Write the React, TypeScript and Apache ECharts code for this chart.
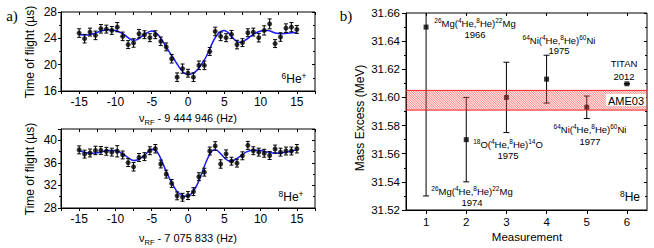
import { useEffect, useRef } from 'react';
import * as echarts from 'echarts';

// ---------- data ----------
const freqOffsetsHz = [-15, -14.25, -13.5, -12.75, -12, -11.25, -10.5, -9.75, -9, -8.25, -7.5, -6.75, -6, -5.25, -4.5, -3.75, -3, -2.25, -1.5, -0.75, 0, 0.75, 1.5, 2.25, 3, 3.75, 4.5, 5.25, 6, 6.75, 7.5, 8.25, 9, 9.75, 10.5, 11.25, 12, 12.75, 13.5, 14.25, 15];
const tof6He = [24.8, 23.95, 24.95, 24.45, 25.45, 25.4, 25.2, 25.7, 24.3, 23.05, 23.3, 24.7, 24.55, 24.1, 24.55, 23.55, 22.7, 20.9, 18.1, 19.4, 18.7, 18.1, 19.9, 19.9, 22.0, 25.05, 24.3, 24.1, 24.6, 23.05, 23.35, 24.85, 24.95, 24.1, 25.2, 26.2, 23.2, 24.2, 25.55, 25.7, 25.35];
const tof6HeErr = [0.65, 0.65, 0.6, 0.65, 0.65, 0.6, 0.6, 0.7, 0.65, 0.6, 0.65, 0.65, 0.6, 0.6, 0.6, 0.65, 0.6, 0.65, 0.65, 0.7, 0.6, 0.65, 0.65, 0.65, 0.6, 0.65, 0.65, 0.6, 0.6, 0.65, 0.6, 0.6, 0.6, 0.65, 0.7, 0.75, 0.6, 0.65, 0.65, 0.7, 0.6];
const tof8He = [38.3, 37.55, 37.75, 38.2, 38.2, 38.05, 37.9, 38.05, 37.4, 36.05, 35.3, 36.95, 37.1, 38.15, 38.5, 35.8, 34.0, 32.35, 30.15, 29.9, 30.2, 30.9, 33.55, 34.35, 38.1, 39.0, 35.8, 37.6, 36.3, 35.95, 37.25, 39.1, 38.15, 37.9, 37.7, 37.3, 38.45, 37.9, 38.1, 38.1, 38.5];
const tof8HeErr = [0.7, 0.7, 0.7, 0.75, 0.7, 0.7, 0.7, 1.0, 0.7, 0.7, 0.75, 0.7, 0.7, 0.7, 0.75, 0.7, 0.7, 0.7, 0.7, 0.7, 0.7, 0.7, 0.7, 0.7, 0.7, 0.75, 0.75, 0.7, 0.7, 0.7, 0.7, 0.7, 0.7, 0.7, 0.7, 0.7, 0.7, 0.7, 0.7, 0.7, 0.75];
const fitX = [-15, -14, -13, -12, -11, -10, -9, -8, -7.5, -7, -6, -5, -4.5, -4, -3.5, -3, -2.5, -2, -1.5, -1, -0.5, 0, 0.5, 1, 1.5, 2, 2.5, 3, 3.5, 4, 4.5, 5, 5.5, 6, 6.5, 7, 7.5, 8, 9, 10, 11, 12, 13, 14, 15];
const fit6He = [24.6, 24.5, 24.7, 25.1, 25.3, 25.2, 24.7, 23.9, 23.7, 23.8, 24.6, 25.1, 24.9, 24.4, 23.6, 22.7, 21.8, 21.0, 20.1, 19.3, 18.7, 18.5, 18.6, 18.9, 19.5, 20.3, 21.2, 22.4, 23.6, 24.5, 25.0, 25.2, 24.9, 24.3, 23.7, 23.4, 23.5, 23.8, 24.6, 25.1, 25.2, 24.8, 24.7, 24.8, 24.9];
const fit8He = [38.2, 37.8, 37.7, 37.9, 38.2, 38.2, 37.6, 36.7, 36.4, 36.5, 37.3, 38.4, 38.3, 37.4, 36.0, 34.5, 33.1, 31.9, 30.9, 30.4, 30.1, 30.1, 30.6, 31.5, 32.8, 34.5, 36.2, 37.5, 38.3, 38.2, 37.6, 36.9, 36.4, 36.3, 36.6, 37.0, 37.4, 37.9, 38.3, 38.2, 37.9, 37.7, 37.8, 38.0, 38.3];
const measurements = [1, 2, 3, 4, 5, 6];
const massExcess = [31.65, 31.57, 31.6, 31.613, 31.593, 31.6097];
const massExcessErr = [0.12, 0.03, 0.025, 0.017, 0.008, 0.0001];
const ame03Band = [31.591, 31.605];
const measurementTicks = [1, 2, 3, 4, 5, 6];

// ---------- styling ----------
const FONT = '"Liberation Sans", Arial, sans-serif';
const SERIF = '"Liberation Serif", "Times New Roman", serif';
const BLUE = '#1a1aff';

const SUPRICH = {
  s: { fontSize: 6.5, verticalAlign: 'top', fontFamily: FONT, fill: '#000', lineHeight: 12 },
  S: { fontSize: 8.5, verticalAlign: 'top', fontFamily: FONT, fill: '#000', lineHeight: 15 },
  r: { fontSize: 7.5, verticalAlign: 'bottom', fontFamily: FONT, fill: '#000', lineHeight: 16 },
};

function txt(x: number, y: number, text: string, fontSize: number, extra: any = {}) {
  return {
    type: 'text', x, y, z: 200,
    style: {
      text, fontSize, fontFamily: FONT, fill: '#000', align: 'center', verticalAlign: 'middle',
      rich: SUPRICH, ...extra,
    },
  };
}

function errorBars(xi: number, yi: number, xs: number[], ys: number[], es: number[], cap: number) {
  return {
    type: 'custom', xAxisIndex: xi, yAxisIndex: yi, clip: true, z: 3, silent: true,
    data: xs.map((x, i) => [x, ys[i] - es[i], ys[i] + es[i]]),
    encode: { x: 0, y: [1, 2] },
    renderItem: (_p: any, api: any) => {
      const x = api.value(0);
      const a = api.coord([x, api.value(1)]);
      const b = api.coord([x, api.value(2)]);
      const st = { stroke: '#000', lineWidth: 1 };
      return {
        type: 'group',
        children: [
          { type: 'line', shape: { x1: a[0], y1: a[1], x2: b[0], y2: b[1] }, style: st },
          { type: 'line', shape: { x1: a[0] - cap, y1: a[1], x2: a[0] + cap, y2: a[1] }, style: st },
          { type: 'line', shape: { x1: b[0] - cap, y1: b[1], x2: b[0] + cap, y2: b[1] }, style: st },
        ],
      };
    },
  };
}

const labelStyle = { fontFamily: FONT, fontSize: 12, color: '#000' };
const AXLINE = { show: true, onZero: false, lineStyle: { color: '#000', width: 1 } };
const NOLINE = { show: false, onZero: false };

function freqAxis(gridIndex: number) {
  return [
    {
      type: 'value', gridIndex, min: -17.5, max: 17.5, interval: 2.5, position: 'bottom',
      axisLine: AXLINE,
      axisTick: { show: true, inside: false, length: 3, lineStyle: { color: '#000' } },
      axisLabel: {
        ...labelStyle, margin: 5,
        formatter: (v: number) => (Math.abs(v) <= 15 && Math.abs(v % 5) < 1e-9 ? String(v) : ''),
      },
      splitLine: { show: false },
    },
    {
      type: 'value', gridIndex, min: -17.5, max: 17.5, interval: 2.5, position: 'top',
      axisLine: NOLINE,
      axisTick: { show: true, inside: true, length: 3, lineStyle: { color: '#000' } },
      axisLabel: { show: false }, splitLine: { show: false },
    },
  ];
}

function tofAxis(gridIndex: number, min: number, max: number) {
  return [
    {
      type: 'value', gridIndex, min, max, interval: 4, position: 'left',
      axisLine: AXLINE,
      axisTick: { show: true, inside: false, length: 3, lineStyle: { color: '#000' } },
      minorTick: { show: true, splitNumber: 2, length: 2, lineStyle: { color: '#000' } },
      axisLabel: { ...labelStyle, margin: 4, showMaxLabel: max % 4 === 0 },
      splitLine: { show: false },
    },
    {
      type: 'value', gridIndex, min, max, interval: 4, position: 'right',
      axisLine: NOLINE,
      axisTick: { show: true, inside: true, length: 3, lineStyle: { color: '#000' } },
      minorTick: { show: true, splitNumber: 2, length: 2, lineStyle: { color: '#000' } },
      axisLabel: { show: false }, splitLine: { show: false },
    },
  ];
}

export default function App() {
  const ref = useRef<HTMLDivElement>(null);
  useEffect(() => {
    if (!ref.current) return;
    const chart = echarts.init(ref.current, null, { renderer: 'svg' });
    const gridBox = { show: true, borderColor: '#000', borderWidth: 1, backgroundColor: 'transparent', containLabel: false };

    const option: any = {
      animation: false,
      backgroundColor: '#fff',
      grid: [
        { ...gridBox, left: 61, top: 12, width: 254, height: 79 },
        { ...gridBox, left: 61, top: 129, width: 254, height: 79 },
        { ...gridBox, left: 406, top: 13, width: 241, height: 197 },
      ],
      xAxis: [
        ...freqAxis(0),
        ...freqAxis(1),
        {
          type: 'value', gridIndex: 2, min: 0.5, max: 6.5, position: 'bottom',
          axisLine: AXLINE,
          axisTick: { show: true, inside: false, length: 4, customValues: measurementTicks, lineStyle: { color: '#000' } },
          axisLabel: { fontFamily: FONT, fontSize: 11.5, color: '#000', margin: 6, customValues: measurementTicks },
          splitLine: { show: false },
        },
        {
          type: 'value', gridIndex: 2, min: 0.5, max: 6.5, position: 'top',
          axisLine: NOLINE,
          axisTick: { show: true, inside: true, length: 3, customValues: measurementTicks, lineStyle: { color: '#000' } },
          axisLabel: { show: false }, splitLine: { show: false },
        },
      ],
      yAxis: [
        ...tofAxis(0, 16, 28),
        ...tofAxis(1, 28, 42),
        {
          type: 'value', gridIndex: 2, min: 31.52, max: 31.66, interval: 0.02, position: 'left',
          axisLine: AXLINE,
          axisTick: { show: true, inside: false, length: 4, lineStyle: { color: '#000' } },
          minorTick: { show: true, splitNumber: 2, length: 2, lineStyle: { color: '#000' } },
          axisLabel: { fontFamily: FONT, fontSize: 11.5, color: '#000', margin: 6, formatter: (v: number) => v.toFixed(2) },
          splitLine: { show: false },
        },
        {
          type: 'value', gridIndex: 2, min: 31.52, max: 31.66, interval: 0.02, position: 'right',
          axisLine: NOLINE,
          axisTick: { show: true, inside: true, length: 3, lineStyle: { color: '#000' } },
          minorTick: { show: true, splitNumber: 2, length: 2, lineStyle: { color: '#000' } },
          axisLabel: { show: false }, splitLine: { show: false },
        },
      ],
      series: [
        {
          type: 'line', xAxisIndex: 0, yAxisIndex: 0, data: fitX.map((x, i) => [x, fit6He[i]]),
          smooth: 0.35, showSymbol: false, symbol: 'none', z: 2, silent: true,
          lineStyle: { color: BLUE, width: 1.5 },
        },
        errorBars(0, 0, freqOffsetsHz, tof6He, tof6HeErr, 2),
        {
          type: 'scatter', xAxisIndex: 0, yAxisIndex: 0, data: freqOffsetsHz.map((x, i) => [x, tof6He[i]]),
          symbol: 'circle', symbolSize: 5, itemStyle: { color: '#000' }, z: 4,
        },
        {
          type: 'line', xAxisIndex: 2, yAxisIndex: 2, data: fitX.map((x, i) => [x, fit8He[i]]),
          smooth: 0.35, showSymbol: false, symbol: 'none', z: 2, silent: true,
          lineStyle: { color: BLUE, width: 1.5 },
        },
        errorBars(2, 2, freqOffsetsHz, tof8He, tof8HeErr, 2),
        {
          type: 'scatter', xAxisIndex: 2, yAxisIndex: 2, data: freqOffsetsHz.map((x, i) => [x, tof8He[i]]),
          symbol: 'circle', symbolSize: 5, itemStyle: { color: '#000' }, z: 4,
        },
        errorBars(4, 4, measurements, massExcess, massExcessErr, 3),
        {
          type: 'scatter', xAxisIndex: 4, yAxisIndex: 4, data: measurements.map((x, i) => [x, massExcess[i]]),
          symbol: 'rect', symbolSize: 5, itemStyle: { color: '#000' }, z: 4,
        },
        {
          type: 'custom', xAxisIndex: 4, yAxisIndex: 4, z: 6, silent: true, clip: true,
          data: [[0.5, ame03Band[0], ame03Band[1]]],
          encode: { x: 0, y: [1, 2] },
          renderItem: (params: any, api: any) => {
            const cs = params.coordSys;
            const top = api.coord([api.value(0), api.value(2)])[1];
            const bot = api.coord([api.value(0), api.value(1)])[1];
            const h = bot - top;
            const x0 = cs.x, x1 = cs.x + cs.width;
            const children: any[] = [
              { type: 'rect', shape: { x: x0, y: top, width: x1 - x0, height: h }, style: { fill: 'rgba(255,120,120,0.18)' } },
            ];
            const step = 2.4;
            for (let s = x0 - h; s < x1; s += step) {
              let ax = s, ay = top, bx = s + h, by = bot;
              if (ax < x0) { ay = top + (x0 - ax); ax = x0; }
              if (bx > x1) { by = bot - (bx - x1); bx = x1; }
              if (bx <= ax) continue;
              children.push({ type: 'line', shape: { x1: ax, y1: ay, x2: bx, y2: by }, style: { stroke: 'rgba(255,40,40,0.75)', lineWidth: 0.7 } });
            }
            children.push({ type: 'line', shape: { x1: x0, y1: top, x2: x1, y2: top }, style: { stroke: '#ff2020', lineWidth: 1 } });
            children.push({ type: 'line', shape: { x1: x0, y1: bot, x2: x1, y2: bot }, style: { stroke: '#ff2020', lineWidth: 1 } });
            return { type: 'group', children };
          },
        },
      ],
      graphic: [
        // panel letters
        { type: 'text', x: 12, y: 16, z: 200, style: { text: 'a)', fontFamily: SERIF, fontSize: 15, fill: '#000', align: 'center', verticalAlign: 'middle' } },
        { type: 'text', x: 346, y: 16, z: 200, style: { text: 'b)', fontFamily: SERIF, fontSize: 15, fill: '#000', align: 'center', verticalAlign: 'middle' } },
        // axis titles
        { type: 'text', x: 30, y: 52, rotation: Math.PI / 2, z: 200, style: { text: 'Time of flight (µs)', fontFamily: FONT, fontSize: 12, fill: '#000', align: 'center', verticalAlign: 'middle' } },
        { type: 'text', x: 30, y: 169, rotation: Math.PI / 2, z: 200, style: { text: 'Time of flight (µs)', fontFamily: FONT, fontSize: 12, fill: '#000', align: 'center', verticalAlign: 'middle' } },
        { type: 'text', x: 360, y: 118, rotation: Math.PI / 2, z: 200, style: { text: 'Mass Excess (MeV)', fontFamily: FONT, fontSize: 12, fill: '#000', align: 'center', verticalAlign: 'middle' } },
        txt(188, 118, 'ν{r|RF} - 9 444 946 (Hz)', 11, { lineHeight: 16 }),
        txt(188, 238, 'ν{r|RF} - 7 075 833 (Hz)', 11, { lineHeight: 16 }),
        txt(527, 237, 'Measurement', 11.5),
        // isotope labels
        txt(294, 79, '{S|6}He{S|+}', 12, { lineHeight: 15 }),
        txt(291, 197, '{S|8}He{S|+}', 12, { lineHeight: 15 }),
        txt(630, 197, '{S|8}He', 12, { lineHeight: 15 }),
        // annotations
        txt(475, 23, '{s|26}Mg({s|4}He,{s|8}He){s|22}Mg', 9.5, { lineHeight: 12 }),
        txt(475, 34, '1966', 9.5),
        txt(559, 40, '{s|64}Ni({s|4}He,{s|8}He){s|60}Ni', 9.5, { lineHeight: 12 }),
        txt(559, 50, '1975', 9.5),
        txt(624, 63, 'TITAN', 9.5),
        txt(624, 76, '2012', 9.5),
        txt(590, 129, '{s|64}Ni({s|4}He,{s|8}He){s|60}Ni', 9.5, { lineHeight: 12 }),
        txt(590, 141, '1977', 9.5),
        txt(508, 144, '{s|18}O({s|4}He,{s|8}He){s|14}O', 9.5, { lineHeight: 12 }),
        txt(508, 155, '1975', 9.5),
        txt(472, 191, '{s|26}Mg({s|4}He,{s|8}He){s|22}Mg', 9.5, { lineHeight: 12 }),
        txt(472, 202, '1974', 9.5),
        txt(626, 100, 'AME03', 11, { backgroundColor: '#fff', padding: [1, 2, 0, 2] }),
      ],
    };
    chart.setOption(option);
    return () => chart.dispose();
  }, []);
  return <div ref={ref} style={{ position: 'absolute', left: 0, top: 0, width: 654, height: 248 }} />;
}
